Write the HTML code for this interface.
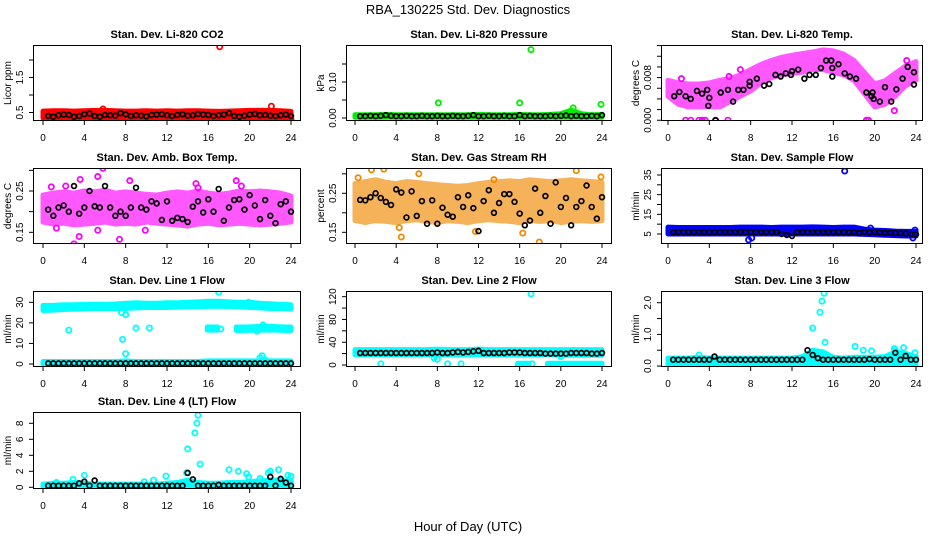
<!DOCTYPE html>
<html><head><meta charset="utf-8"><style>
html,body{margin:0;padding:0;background:#fff;}
svg{display:block;font-family:"Liberation Sans",Arial,sans-serif;}
</style></head><body>
<svg id="chart" width="936" height="540" viewBox="0 0 936 540">
<text x="468" y="14" font-size="13" text-anchor="middle">RBA_130225  Std. Dev. Diagnostics</text>
<text x="468" y="531" font-size="13" text-anchor="middle">Hour of Day (UTC)</text>
</svg>
<script>
// ---------- DATA ----------
const xTicks = [0,4,8,12,16,20,24];
const bandHours = [0,1,2,3,4,5,6,7,8,9,10,11,12,13,14,15,16,17,18,19,20,21,22,23,24];

// P1 CO2
const co2Lo = [0.34,0.34,0.34,0.34,0.34,0.34,0.34,0.34,0.34,0.34,0.34,0.34,0.34,0.34,0.34,0.34,0.34,0.34,0.34,0.34,0.34,0.34,0.34,0.34,0.32];
const co2Hi = [0.54,0.55,0.55,0.54,0.55,0.56,0.56,0.55,0.54,0.54,0.55,0.54,0.55,0.54,0.55,0.55,0.54,0.53,0.54,0.55,0.56,0.56,0.56,0.55,0.53];
const co2OutH = [17.1,5.8,22.1,24.0];
const co2OutV = [2.38,0.60,0.68,0.30];
const co2Black = [0.40,0.38,0.42,0.44,0.43,0.38,0.40,0.45,0.47,0.40,0.38,0.43,0.42,0.41,0.48,0.45,0.40,0.42,0.41,0.39,0.43,0.44,0.45,0.42,0.40,0.43,0.45,0.41,0.42,0.46,0.44,0.43,0.40,0.42,0.44,0.48,0.40,0.38,0.41,0.44,0.46,0.42,0.43,0.41,0.40,0.42,0.44,0.40];

// P2 Pressure
const prLo = [0.002,0.002,0.002,0.002,0.002,0.002,0.002,0.002,0.002,0.002,0.002,0.002,0.002,0.002,0.002,0.002,0.002,0.002,0.002,0.002,0.002,0.002,0.002,0.002,0.002];
const prHi = [0.009,0.009,0.009,0.010,0.009,0.009,0.009,0.009,0.009,0.009,0.009,0.009,0.010,0.009,0.009,0.009,0.010,0.009,0.009,0.010,0.012,0.022,0.012,0.009,0.010];
const prOutH = [8.1,16.0,17.1,23.9,21.2];
const prOutV = [0.042,0.042,0.190,0.038,0.028];
const prBlack = [0.005,0.005,0.006,0.005,0.006,0.008,0.006,0.005,0.005,0.006,0.005,0.005,0.006,0.005,0.005,0.006,0.005,0.005,0.006,0.005,0.005,0.006,0.008,0.005,0.005,0.006,0.005,0.005,0.006,0.005,0.005,0.008,0.005,0.006,0.005,0.005,0.005,0.006,0.005,0.006,0.007,0.005,0.006,0.005,0.005,0.006,0.005,0.008];

// P3 Li-820 temp
const tpLo = [0.0045,0.0030,0.0025,0.0025,0.0025,0.0025,0.0035,0.0045,0.0055,0.0070,0.0080,0.0085,0.0088,0.0090,0.0095,0.0095,0.0090,0.0085,0.0075,0.0050,0.0025,0.0030,0.0045,0.0065,0.0075];
const tpHi = [0.0075,0.0070,0.0068,0.0068,0.0070,0.0075,0.0078,0.0085,0.0095,0.0105,0.0112,0.0118,0.0122,0.0125,0.0128,0.0132,0.0130,0.0124,0.0112,0.0090,0.0068,0.0074,0.0088,0.0102,0.0110];
const tpOutH = [1.7,2.2,3.0,3.3,3.6,4.6,5.8,19.2,19.4,1.3,7.0,5.9,23.1,21.9];
const tpOutV = [0,0,0,0,0,0,0,0,0,0.0078,0.0095,0.0082,0.0112,0.0018];
const tpBlackH = [0.6,1.1,1.7,2.2,2.8,3.3,3.8,3.9,4.0,4.6,5.1,5.8,6.3,6.8,7.3,7.9,7.9,8.6,9.3,9.8,10.4,10.9,11.4,11.9,12.0,12.6,13.2,13.7,14.3,14.8,15.3,15.8,15.9,15.9,16.5,17.1,17.6,18.2,19.2,19.7,19.8,19.9,20.5,21.0,21.6,22.1,22.7,23.2,23.8,23.8];
const tpBlackV = [0.0045,0.0053,0.0045,0.0040,0.0055,0.0050,0.0057,0.0027,0.0042,0.0000,0.0052,0.0057,0.0035,0.0057,0.0057,0.0072,0.0065,0.0078,0.0065,0.0068,0.0085,0.0082,0.0088,0.0085,0.0092,0.0095,0.0078,0.0085,0.0085,0.0098,0.0112,0.0112,0.0098,0.0082,0.0105,0.0088,0.0082,0.0078,0.0052,0.0045,0.0052,0.0040,0.0035,0.0062,0.0035,0.0058,0.0078,0.0100,0.0090,0.0067];

// P4 Amb box temp
const abLo = [0.175,0.170,0.172,0.168,0.170,0.172,0.175,0.170,0.172,0.170,0.175,0.172,0.170,0.168,0.165,0.170,0.172,0.168,0.170,0.172,0.170,0.168,0.170,0.172,0.175];
const abHi = [0.240,0.245,0.248,0.245,0.250,0.248,0.252,0.245,0.248,0.245,0.242,0.240,0.245,0.248,0.245,0.250,0.245,0.242,0.245,0.250,0.248,0.250,0.248,0.245,0.238];
const abOutH = [3.0,3.5,5.8,5.3,3.6,7.4,8.4,18.7,0.8,2.2,14.8,15.0,5.3,9.9,1.3,19.2];
const abOutV = [0.122,0.140,0.305,0.285,0.278,0.133,0.275,0.275,0.260,0.262,0.268,0.258,0.155,0.155,0.160,0.262];
const abBlack = [0.205,0.190,0.210,0.215,0.200,0.262,0.195,0.210,0.250,0.213,0.210,0.262,0.210,0.190,0.200,0.190,0.210,0.258,0.210,0.205,0.225,0.220,0.180,0.225,0.178,0.185,0.182,0.175,0.212,0.225,0.198,0.230,0.200,0.255,0.178,0.210,0.228,0.230,0.205,0.240,0.215,0.182,0.228,0.190,0.172,0.218,0.225,0.200];

// P5 Gas stream RH
const rhLo = [0.180,0.175,0.180,0.178,0.175,0.180,0.182,0.178,0.175,0.180,0.178,0.175,0.180,0.182,0.180,0.178,0.175,0.180,0.178,0.180,0.175,0.178,0.180,0.178,0.180];
const rhHi = [0.275,0.280,0.285,0.278,0.275,0.280,0.278,0.275,0.272,0.270,0.268,0.270,0.275,0.278,0.280,0.282,0.280,0.285,0.282,0.280,0.282,0.285,0.282,0.280,0.278];
const rhOutH = [0.3,1.6,2.8,4.3,4.5,17.9,21.5,16.3,11.7,6.2,13.5,23.9];
const rhOutV = [0.290,0.310,0.312,0.162,0.138,0.125,0.308,0.148,0.152,0.300,0.285,0.292];
const rhBlack = [0.233,0.232,0.240,0.250,0.238,0.228,0.220,0.260,0.252,0.188,0.255,0.192,0.230,0.172,0.232,0.172,0.213,0.195,0.190,0.240,0.215,0.245,0.212,0.153,0.230,0.258,0.200,0.225,0.248,0.248,0.228,0.198,0.168,0.180,0.262,0.200,0.243,0.172,0.278,0.215,0.238,0.168,0.215,0.230,0.270,0.215,0.185,0.240];

// P6 Sample flow
const sfLo = [5.0,5.0,5.0,5.0,5.0,5.0,5.0,5.0,5.0,5.0,5.0,5.0,5.0,5.0,5.0,5.0,5.0,5.0,5.0,4.8,4.6,4.4,4.2,4.0,4.0];
const sfHi = [8.5,8.3,8.3,8.3,8.3,8.3,8.3,8.5,8.5,8.5,8.3,8.5,8.5,8.5,8.6,8.5,8.3,8.5,8.5,7.5,7.0,6.8,6.5,6.3,6.3];
const sfOutH = [7.8,8.1,17.1,19.6,23.9,23.7];
const sfOutV = [2.0,3.0,37.0,8.0,7.0,3.0];
const sfBlack = [6,6,6,6,6,6,6,6,6,6,6,6,6,6,6,6,6,6,6,6,6,5,4.5,4,6,6,6,6,6,6,6,6,6,6,5.8,6,5.5,6,5.8,6,5.8,5.6,5.6,5.5,5.4,5.3,5,4.8];

// P7 Line 1 flow
const l1Lo = [26.0,26.2,26.5,26.7,26.8,27.0,27.0,27.0,27.0,27.3,27.5,27.5,27.5,27.6,27.8,27.8,28.0,28.0,28.0,27.8,27.5,27.3,27.0,27.0,26.8];
const l1Hi = [28.5,28.5,28.8,28.8,29.0,29.0,29.0,29.2,29.5,29.8,29.5,29.5,29.8,29.8,30.0,30.2,30.5,30.5,30.2,30.0,30.0,29.5,29.3,29.0,28.8];
const l1ZeroLo = [0,0,0,0,0,0,0,0,0,0,0,0,0,0,0,0,0,0,0,0,0,0,0,0,0];
const l1ZeroHi = [1.2,1.2,1.2,1.2,1.2,1.2,1.2,1.2,1.5,1.2,1.2,1.2,1.2,1.2,1.2,1.2,1.5,1.5,1.5,1.5,1.5,1.5,1.5,1.5,1.5];
const l1MidH = [15.9,16.4,16.9];
const l1MidLo = [16.5,16.5,16.5];
const l1MidHi = [18.0,18.0,18.0];
const l1Mid2H = [18.7,19.5,20.5,21.5,22.5,23.5,24.0];
const l1Mid2Lo = [16.3,16.3,16.5,16.5,16.5,16.3,16.3];
const l1Mid2Hi = [18.0,18.0,18.2,18.5,18.2,18.0,18.0];
const l1OutH = [2.5,7.7,8.0,7.6,8.0,9.0,10.3,17.0,17.2,19.9,20.7,21.3,21.0,21.2,21.5];
const l1OutV = [16.5,12.0,5.0,25.0,24.0,17.5,17.5,35.0,17.0,30.0,16.0,19.0,3.0,4.0,2.0];
const l1Black = [0.3,0.3,0.3,0.3,0.3,0.3,0.3,0.3,0.3,0.3,0.3,0.3,0.3,0.3,0.3,0.3,0.3,0.3,0.3,0.3,0.3,0.3,0.3,0.3,0.3,0.3,0.3,0.3,0.3,0.3,0.3,0.3,0.3,0.3,0.3,0.3,0.3,0.3,0.3,0.3,0.3,0.3,0.3,0.3,0.3,0.3,0.3,0.3];

// P8 Line 2 flow
const l2Lo = [18,18,18,18,18,18,18,18,18,18,18,18,18,18,18,18,18,18,18,18,17,17,17,17,17];
const l2Hi = [27,27,27,27,27,27,27,27,28,27,27,27,28,27,27,27,27,27,27,27,27,27,27,27,27];
const l2LowH = [15.8,16.3,16.9];
const l2LowLo = [0,0,0];
const l2LowHi = [3,3,3];
const l2Low2H = [18.7,19.5,20.5,21.5,22.5,23.5,24.0];
const l2Low2Lo = [0,0,0,0,0,0,0];
const l2Low2Hi = [3,3,3,3,3,3,3];
const l2OutH = [2.5,7.7,8.0,9.0,10.3,17.1,17.2,20.0];
const l2OutV = [2,12,10,2,2,125,2,15];
const l2Black = [21,21,21,21,21,21,21,21,21,21,21,21,21,21,21,22,21,21,22,23,22,23,24,25,21,21,21,21,21,22,22,22,21,21,21,21,20,20,20,20,20,21,21,21,21,20,20,21];

// P9 Line 3 flow
const l3Lo = [0,0,0,0,0,0,0,0,0,0,0,0,0,0,0,0,0,0,0,0,0,0,0,0,0];
const l3Hi = [0.25,0.25,0.25,0.28,0.25,0.25,0.25,0.25,0.25,0.25,0.25,0.25,0.25,0.30,0.50,0.45,0.28,0.25,0.28,0.28,0.28,0.30,0.45,0.40,0.30];
const l3OutH = [3.0,14.0,14.7,14.9,15.1,15.2,18.1,18.9,19.7,21.9,22.8,23.9,22.0];
const l3OutV = [0.35,1.20,1.70,2.05,2.30,0.75,0.62,0.50,0.48,0.55,0.58,0.42,0.50];
const l3Black = [0.2,0.2,0.2,0.2,0.2,0.2,0.2,0.2,0.3,0.2,0.2,0.2,0.2,0.2,0.2,0.2,0.2,0.2,0.2,0.2,0.2,0.2,0.2,0.2,0.2,0.2,0.5,0.35,0.25,0.2,0.2,0.2,0.2,0.2,0.2,0.2,0.2,0.2,0.22,0.2,0.2,0.2,0.2,0.42,0.2,0.32,0.2,0.2];

// P10 Line 4 flow
const l4Lo = [0,0,0,0,0,0,0,0,0,0,0,0,0,0,0,0,0,0,0,0,0,0,0,0,0];
const l4Hi = [0.4,0.5,0.5,0.6,0.5,0.4,0.4,0.4,0.4,0.4,0.4,0.4,0.5,0.6,0.9,0.6,0.5,0.5,0.6,0.6,0.7,0.8,0.9,0.9,0.7];
const l4OutH = [1.3,2.9,4.0,9.8,10.7,11.9,14.0,14.7,14.9,15.0,15.2,13.9,18.0,18.9,19.7,19.9,21.0,21.8,22.0,22.8,23.7,24.0];
const l4OutV = [0.6,1.0,1.5,0.7,0.9,1.4,4.8,6.8,8.0,9.0,2.9,1.8,2.2,2.0,1.7,1.3,1.1,1.8,2.0,2.2,1.5,1.4];
const l4Black = [0.2,0.2,0.2,0.2,0.2,0.2,0.5,0.7,0.2,0.85,0.2,0.2,0.2,0.2,0.2,0.2,0.2,0.2,0.2,0.2,0.2,0.2,0.2,0.2,0.2,0.2,0.2,1.8,1.0,0.2,0.2,0.2,0.2,0.3,0.2,0.2,0.2,0.2,0.2,0.2,0.2,0.2,0.2,1.3,0.2,1.05,0.6,0.2];

// ---------- LAYOUT ----------
const cols = [{l:33,r:301,x0:43,x24:291},{l:346,r:612,x0:355,x24:602},{l:661,r:923,x0:668,x24:916}];
const rows = [{t:45,b:121},{t:168,b:244},{t:291,b:367},{t:412,b:489}];
const blackHours = co2Black.map((_, i) => 0.5 + i * 0.5);

const panels = [
 {id:'co2',title:'Stan. Dev. Li-820 CO2',ylab:'Licor ppm',c:0,r:0,dom:[0.257,2.429],ticks:[0.5,1,1.5,2],labs:['0.5','','1.5',''],color:'#ff0000',op:1,
  bands:[[bandHours,co2Lo,co2Hi]],outH:co2OutH,outV:co2OutV,bH:blackHours,bV:co2Black},
 {id:'pressure',title:'Stan. Dev. Li-820 Pressure',ylab:'kPa',c:1,r:0,dom:[-0.0083,0.2028],ticks:[0,0.05,0.1,0.15],labs:['0.00','','0.10',''],color:'#00ee00',op:1,
  bands:[[bandHours,prLo,prHi]],outH:prOutH,outV:prOutV,bH:blackHours,bV:prBlack},
 {id:'li820-temp',title:'Stan. Dev. Li-820 Temp.',ylab:'degrees C',c:2,r:0,dom:[-0.00014,0.01411],ticks:[0,0.002,0.004,0.006,0.008,0.01,0.012,0.014],labs:['0.000','','','','0.008','','',''],color:'#ff00ff',op:0.65,
  bands:[[bandHours,tpLo,tpHi]],outH:tpOutH,outV:tpOutV,bH:tpBlackH,bV:tpBlackV},
 {id:'amb-box-temp',title:'Stan. Dev. Amb. Box Temp.',ylab:'degrees C',c:0,r:1,dom:[0.1217,0.3057],ticks:[0.15,0.2,0.25,0.3],labs:['0.15','','0.25',''],color:'#ff00ff',op:0.65,
  bands:[[bandHours,abLo,abHi]],outH:abOutH,outV:abOutV,bH:blackHours,bV:abBlack},
 {id:'gas-stream-rh',title:'Stan. Dev. Gas Stream RH',ylab:'percent',c:1,r:1,dom:[0.12,0.3149],ticks:[0.15,0.2,0.25,0.3],labs:['0.15','','0.25',''],color:'#f08a00',op:0.65,
  bands:[[bandHours,rhLo,rhHi]],outH:rhOutH,outV:rhOutV,bH:blackHours,bV:rhBlack},
 {id:'sample-flow',title:'Stan. Dev. Sample Flow',ylab:'ml/min',c:2,r:1,dom:[-0.08,38.55],ticks:[5,10,15,20,25,30,35],labs:['5','','15','','25','','35'],color:'#0000ff',op:1,
  bands:[[bandHours,sfLo,sfHi]],outH:sfOutH,outV:sfOutV,bH:blackHours,bV:sfBlack},
 {id:'line1-flow',title:'Stan. Dev. Line 1 Flow',ylab:'ml/min',c:0,r:2,dom:[-1.46,35.5],ticks:[0,10,20,30],labs:['0','10','20','30'],color:'#00ffff',op:1,
  bands:[[bandHours,l1Lo,l1Hi],[bandHours,l1ZeroLo,l1ZeroHi],[l1MidH,l1MidLo,l1MidHi],[l1Mid2H,l1Mid2Lo,l1Mid2Hi]],outH:l1OutH,outV:l1OutV,bH:blackHours,bV:l1Black},
 {id:'line2-flow',title:'Stan. Dev. Line 2 Flow',ylab:'ml/min',c:1,r:2,dom:[-3.5,130],ticks:[0,20,40,60,80,100,120],labs:['0','','40','','80','','120'],color:'#00ffff',op:1,
  bands:[[bandHours,l2Lo,l2Hi],[l2LowH,l2LowLo,l2LowHi],[l2Low2H,l2Low2Lo,l2Low2Hi]],outH:l2OutH,outV:l2OutV,bH:blackHours,bV:l2Black},
 {id:'line3-flow',title:'Stan. Dev. Line 3 Flow',ylab:'ml/min',c:2,r:2,dom:[-0.03,2.37],ticks:[0,0.5,1,1.5,2],labs:['0.0','','1.0','','2.0'],color:'#00ffff',op:1,
  bands:[[bandHours,l3Lo,l3Hi]],outH:l3OutH,outV:l3OutV,bH:blackHours,bV:l3Black},
 {id:'line4-flow',title:'Stan. Dev. Line 4 (LT) Flow',ylab:'ml/min',c:0,r:3,dom:[-0.21,9.41],ticks:[0,2,4,6,8],labs:['0','2','4','6','8'],color:'#00ffff',op:1,
  bands:[[bandHours,l4Lo,l4Hi]],outH:l4OutH,outV:l4OutV,bH:blackHours,bV:l4Black}
];

// ---------- DRAW ----------
const NS = 'http://www.w3.org/2000/svg';
const svg = document.getElementById('chart');
function mk(tag, attrs, parent){ const e=document.createElementNS(NS,tag); for(const k in attrs) e.setAttribute(k,attrs[k]); parent.appendChild(e); return e; }

panels.forEach(p => {
  const C = cols[p.c], R = rows[p.r];
  const xs = h => C.x0 + (C.x24 - C.x0) * h / 24;
  const ys = v => R.b - (v - p.dom[0]) / (p.dom[1] - p.dom[0]) * (R.b - R.t);
  const g = mk('g', {}, svg);
  
  
  const clip = mk('clipPath', {id:'clip-'+p.id}, g);
  mk('rect', {x:C.l, y:R.t, width:C.r-C.l, height:R.b-R.t}, clip);
  const marks = mk('g', {'clip-path':'url(#clip-'+p.id+')'}, g);
  
  
  p.bands.forEach(([H, lo, hi]) => {
    let d = '';
    H.forEach((h, i) => { d += (i ? 'L' : 'M') + xs(h).toFixed(1) + ',' + ys(hi[i]).toFixed(1); });
    for (let i = H.length - 1; i >= 0; i--) d += 'L' + xs(H[i]).toFixed(1) + ',' + ys(lo[i]).toFixed(1);
    d += 'Z';
    const b = mk('path', {d:d, fill:p.color, stroke:p.color, 'stroke-width':5, 'stroke-linejoin':'round', opacity:p.op}, marks);
    
    
  });
  p.outH.forEach((h, i) => {
    const c = mk('circle', {cx:xs(h), cy:ys(p.outV[i]), r:2.6, fill:'none', stroke:p.color, 'stroke-width':1.8}, marks);
    
    
  });
  p.bH.forEach((h, i) => {
    const c = mk('circle', {cx:xs(h), cy:ys(p.bV[i]), r:2.4, fill:'none', stroke:'#000', 'stroke-width':1.7}, marks);
    
    
  });
  const box = mk('rect', {x:C.l+0.5, y:R.t+0.5, width:C.r-C.l-1, height:R.b-R.t-1, fill:'none', stroke:'#000', 'stroke-width':1}, g);
  
  
  xTicks.forEach(t => {
    const x = xs(t);
    mk('line', {x1:x, x2:x, y1:R.b, y2:R.b+4, stroke:'#000'}, g);
    const tx = mk('text', {x:x, y:R.b+20, 'font-size':10, 'text-anchor':'middle'}, g);
    tx.textContent = t;
    
    
  });
  p.ticks.forEach((t, i) => {
    const y = ys(t);
    mk('line', {x1:C.l-4, x2:C.l, y1:y, y2:y, stroke:'#000'}, g);
    if (p.labs[i]) {
      const tx = mk('text', {x:0, y:0, 'font-size':10, 'text-anchor':'middle', transform:'translate('+(C.l-10)+','+y+') rotate(-90)'}, g);
      tx.textContent = p.labs[i];
      
      
    }
  });
  const ti = mk('text', {x:(C.l+C.r)/2, y:R.t-7, 'font-size':11, 'font-weight':'bold', 'text-anchor':'middle'}, g);
  ti.textContent = p.title;
  
  
  const yl = mk('text', {x:0, y:0, 'font-size':10, 'text-anchor':'middle', transform:'translate('+(C.l-22)+','+((R.t+R.b)/2)+') rotate(-90)'}, g);
  yl.textContent = p.ylab;
  
  
});
</script>
</body></html>
